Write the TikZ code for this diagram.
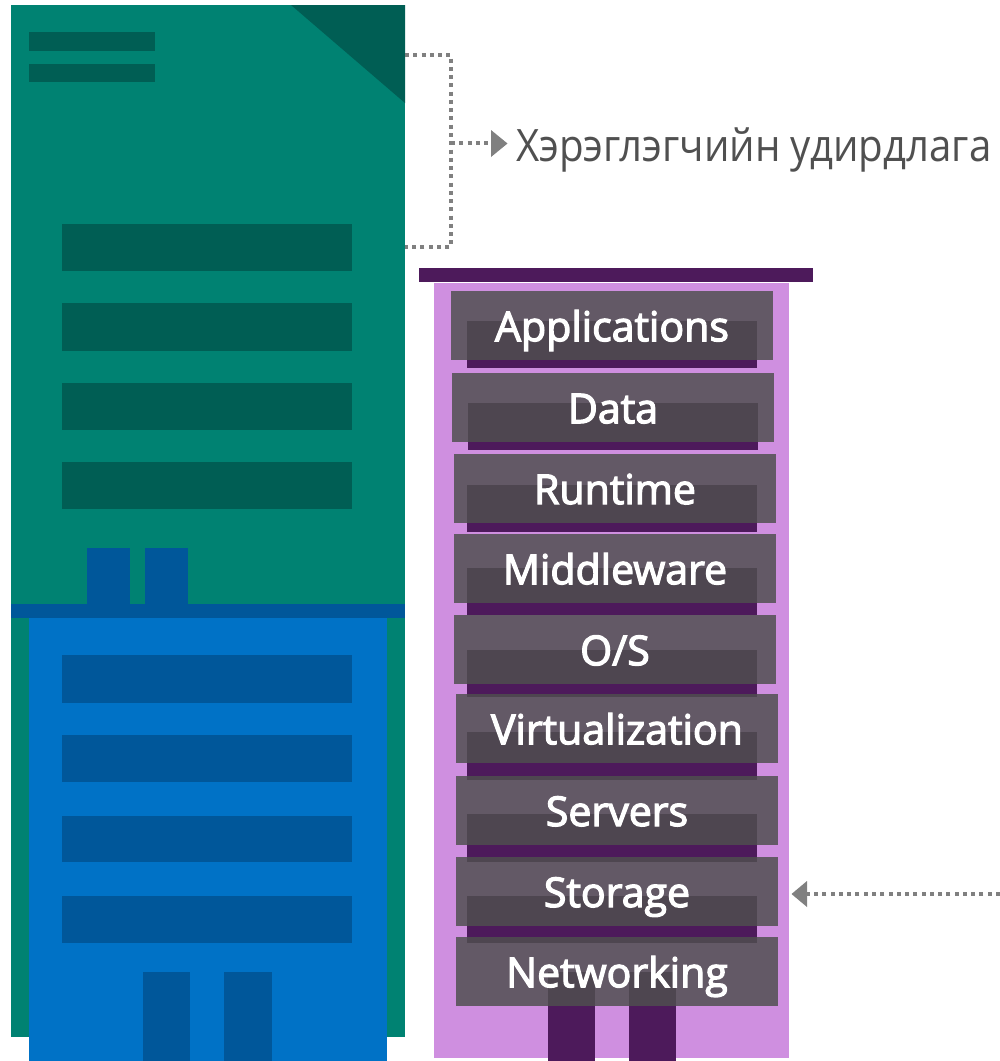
\documentclass[tikz,border=0pt]{standalone}
\usepackage{fontspec}
\setmainfont{Open Sans}
\newfontfamily\labelfont[FakeBold=3]{Open Sans}
\newfontfamily\titlefont[FakeStretch=0.9]{Open Sans}
\definecolor{grn}{HTML}{008272}
\definecolor{grnd}{HTML}{005E54}
\definecolor{blu}{HTML}{0072C6}
\definecolor{blud}{HTML}{00579A}
\definecolor{pur}{HTML}{CF8FE0}
\definecolor{purd}{HTML}{4D1A5B}
\definecolor{lay}{HTML}{4F4F4F}
\definecolor{con}{HTML}{808080}
\definecolor{txt}{HTML}{505050}
\tikzset{
 x=0.75pt,y=-0.75pt,
 plain/.style={draw=none,inner sep=0pt,outer sep=0pt,anchor=north west},
 layer/.style={plain,fill=lay,fill opacity=.84,text opacity=1,text=white,
   font=\labelfont\fontsize{30.8pt}{30.8pt}\selectfont,align=center,
   text height=37.5pt,text depth=14pt},
 dots/.style={draw=con,line width=3.3pt,dash pattern=on 3pt off 3.2pt},
 tip/.style={fill=con,draw=none},
}
\newcommand{\Rct}[7][]{\node[plain,#2,#1,minimum width={(#5-#3)*0.75pt},minimum height={(#6-#4)*0.75pt}] (#7) at (#3,#4) {};}
\newcommand{\Lay}[6]{\node[layer,minimum width={(#4-#2)*0.75pt},minimum height={(#5-#3)*0.75pt}] (#1) at (#2,#3) {#6};}
\begin{document}
\begin{tikzpicture}
\useasboundingbox (0,0) rectangle (1000,1061);
% green tower
\Rct{fill=grn}{11}{5}{405}{1037}{green}
\fill[grnd] (291,5) -- (405,5) -- (405,103) -- cycle;
\Rct{fill=grnd}{29}{32}{155}{51}{ga}
\Rct{fill=grnd}{29}{64}{155}{82}{gb}
\Rct{fill=grnd}{62}{224}{352}{271}{gc}
\Rct{fill=grnd}{62}{303}{352}{351}{gd}
\Rct{fill=grnd}{62}{383}{352}{430}{ge}
\Rct{fill=grnd}{62}{462}{352}{509}{gf}
\Rct{fill=blud}{87}{548}{130}{604}{pa}
\Rct{fill=blud}{145}{548}{188}{604}{pb}
% blue tower
\Rct{fill=blud}{11}{604}{405}{618}{strip}
\Rct{fill=blu}{29}{618}{387}{1061}{blue}
\Rct{fill=blud}{62}{655}{352}{703}{ba}
\Rct{fill=blud}{62}{735}{352}{782}{bb}
\Rct{fill=blud}{62}{816}{352}{862}{bc}
\Rct{fill=blud}{62}{896}{352}{943}{bd}
\Rct{fill=blud}{143}{972}{190}{1061}{pc}
\Rct{fill=blud}{224}{972}{272}{1061}{pd}
% purple tower
\Rct{fill=purd}{419}{268}{813}{282}{ptop}
\Rct{fill=pur}{434}{283}{789}{1058}{purple}
\Rct{fill=purd}{467}{321}{757}{368}{d1}
\Rct{fill=purd}{468}{403}{758}{450}{d2}
\Rct{fill=purd}{467}{485}{757}{532}{d3}
\Rct{fill=purd}{467}{568}{757}{615}{d4}
\Rct{fill=purd}{467}{650}{757}{697}{d5}
\Rct{fill=purd}{467}{732}{757}{780}{d6}
\Rct{fill=purd}{467}{814}{757}{862}{d7}
\Rct{fill=purd}{467}{896}{757}{943}{d8}
\Rct{fill=purd}{548}{972}{595}{1061}{pe}
\Rct{fill=purd}{629}{972}{676}{1061}{pf}
\Lay{l1}{451}{291}{773}{360}{Applications}
\Lay{l2}{452}{373}{774}{442}{Data}
\Lay{l3}{454}{454}{776}{522}{Runtime}
\Lay{l4}{454}{534}{776}{603}{Middleware}
\Lay{l5}{454}{615}{776}{684}{O/S}
\Lay{l6}{456}{694}{778}{763}{Virtualization}
\Lay{l7}{456}{776}{778}{844}{Servers}
\Lay{l8}{456}{857}{778}{925}{Storage}
\Lay{l9}{456}{937}{778}{1006}{Networking}
% connectors
\coordinate (c1) at (green.north east |- 0,55);
\coordinate (c2) at (green.north east |- 0,247);
\coordinate (j1) at (451,55);
\coordinate (j2) at (451,247);
\coordinate (j3) at (451,143);
\coordinate (a1) at (492,143);
\coordinate (e1) at (1000,894);
\coordinate (a2) at (807,894);
\draw[dots] (c1) -- (j1) -- (j2) -- (c2);
\draw[dots] (j3) -- (a1);
\fill[tip] (491,130) -- (507.5,143.5) -- (491,157) -- cycle;
\draw[dots] (e1) -- (a2);
\fill[tip] (807,881) -- (791.5,894) -- (807,907) -- cycle;
\node[anchor=base west,inner sep=0pt,text=txt,font=\titlefont\fontsize{33.5pt}{33.5pt}\selectfont] (title) at (516,161.5) {Хэрэглэгчийн удирдлага};
\end{tikzpicture}
\end{document}
